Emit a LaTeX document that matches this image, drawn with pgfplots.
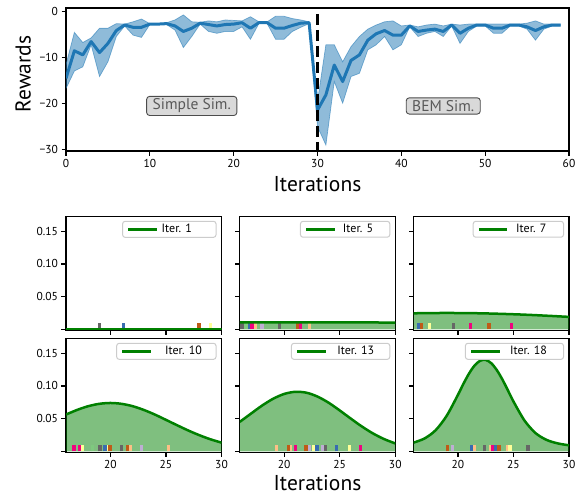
\documentclass[border=0pt]{standalone}
\usepackage{fontspec}
\setmainfont{PT Sans}
\usepackage{pgfplots}
\usepackage{pgfplotstable}
\pgfplotsset{compat=1.18}
\usepgfplotslibrary{fillbetween}

\definecolor{tabblue}{HTML}{1F77B4}
\definecolor{mplgreen}{HTML}{008000}
% Accent palette for the rug marks
\definecolor{accgreen}{HTML}{7FC97F}
\definecolor{acclav}{HTML}{BEAED4}
\definecolor{accorange}{HTML}{FDC086}
\definecolor{accyellow}{HTML}{FFFF99}
\definecolor{accblue}{HTML}{386CB0}
\definecolor{accpink}{HTML}{F0027F}
\definecolor{accbrown}{HTML}{BF5B17}
\definecolor{accgray}{HTML}{666666}

% reward curve: iteration, mean, lower, upper
\pgfplotstableread{
x m lo hi
0 -14.5 -16.7 -11.5
1 -8.5 -12.9 -4.5
2 -9.4 -12.0 -6.7
3 -6.5 -7.2 -5.7
4 -8.9 -14.1 -3.6
5 -6.9 -10.9 -3.6
6 -4.1 -5.4 -2.6
7 -2.9 -3.1 -2.7
8 -3.4 -5.1 -2.2
9 -3.4 -5.6 -1.6
10 -2.7 -2.8 -2.6
11 -2.7 -2.8 -2.6
12 -2.6 -2.8 -2.4
13 -3.1 -4.0 -1.8
14 -4.3 -7.8 -0.7
15 -3.6 -5.4 -2.2
16 -2.5 -2.7 -2.3
17 -2.8 -4.3 -2.0
18 -3.1 -4.7 -2.2
19 -2.8 -4.3 -1.8
20 -2.7 -4.3 -1.9
21 -2.4 -3.3 -2.0
22 -3.6 -6.0 -1.1
23 -2.4 -2.6 -2.2
24 -2.4 -2.6 -2.2
25 -3.6 -6.0 -1.0
26 -3.6 -6.0 -1.0
27 -3.0 -4.3 -1.5
28 -2.5 -3.4 -1.8
29 -2.4 -2.6 -2.2
30 -21.4 -25.0 -19.5
31 -18.1 -29.0 -7.2
32 -11.6 -15.2 -7.2
33 -15.2 -19.9 -10.9
34 -10.6 -14.1 -7.6
35 -9.4 -13.4 -5.4
36 -6.2 -8.3 -3.8
37 -4.8 -7.2 -2.9
38 -4.1 -5.4 -2.2
39 -5.1 -8.3 -2.0
40 -5.1 -7.2 -3.1
41 -3.1 -3.3 -2.9
42 -4.3 -5.4 -3.3
43 -4.0 -4.7 -2.9
44 -3.8 -4.3 -2.7
45 -4.3 -5.4 -3.1
46 -2.9 -3.1 -2.7
47 -4.7 -6.9 -2.9
48 -3.6 -4.3 -2.7
49 -2.9 -3.1 -2.7
50 -2.9 -3.1 -2.7
51 -3.6 -4.7 -2.7
52 -3.6 -4.7 -2.7
53 -2.9 -3.1 -2.7
54 -2.9 -3.1 -2.7
55 -3.3 -3.8 -2.5
56 -4.1 -6.2 -2.0
57 -3.3 -3.8 -2.7
58 -2.9 -3.1 -2.7
59 -2.9 -3.1 -2.7
}\rewards

\pgfplotstableread{
x y
16 0.0008
23 0.0008
30 0.0008
}\iterA
\pgfplotstableread{
x y
16 0.0106
20 0.0106
25 0.0105
30 0.0104
}\iterB
\pgfplotstableread{
x y
16 0.0245
18 0.0249
19 0.0250
20 0.0249
22 0.0245
24 0.0236
26 0.0224
28 0.0208
30 0.0190
}\iterC
\pgfplotstableread{
x y
16 0.0562
17 0.0633
18 0.0690
19 0.0726
20 0.0739
21 0.0726
22 0.0690
23 0.0633
24 0.0562
25 0.0481
26 0.0399
27 0.0319
28 0.0247
29 0.0184
30 0.0133
}\iterD
\pgfplotstableread{
x y
16 0.0450
17 0.0575
18 0.0698
19 0.0803
20 0.0877
21 0.0910
22 0.0896
23 0.0837
24 0.0743
25 0.0625
26 0.0500
27 0.0379
28 0.0273
29 0.0187
30 0.0121
}\iterE
\pgfplotstableread{
x y
16 0.0133
17 0.0197
18 0.0324
19 0.0547
20 0.0863
20.5 0.1034
21 0.1189
21.5 0.1312
22 0.1385
22.5 0.1397
23 0.1347
23.5 0.1242
24 0.1099
24.5 0.0932
25 0.0762
26 0.0469
27 0.0277
28 0.0173
29 0.0121
30 0.0092
}\iterF

\tikzset{
  simbox/.style={fill=black!15, draw=black!70, line width=0.9pt, rounded corners=3pt,
    text=black!65, font=\fontsize{15.5}{17}\selectfont, inner xsep=6pt, inner ysep=2.5pt},
  biglabel/.style={font=\fontsize{21.5}{24}\selectfont, inner sep=0pt, anchor=base},
}
% legend text with measured padding: gap before, space after
\newcommand{\leg}[3]{\rule{#1}{0pt}#3\rule{#2}{0pt}}

\pgfplotsset{
  common/.style={
    scale only axis,
    axis line style={line width=1.3pt},
    tick align=outside, tick pos=left,
    major tick length=4.5pt,
    every tick/.append style={black, line width=1.3pt},
    ticklabel style={font=\fontsize{11.5}{13}\selectfont},
    /pgf/number format/assume math mode=true,
  },
  panel/.style={
    common, anchor=north west,
    width=155.5pt, height=113.5pt,
    xmin=16, xmax=30, ymin=-0.0015, ymax=0.172,
    xtick={20,25,30}, ytick={0,0.05,0.1,0.15},
    yticklabels={,0.05,0.10,0.15},
    legend style={at={(1,1)}, anchor=north east, xshift=-5pt, yshift=-4pt,
      draw=black!20, line width=1pt, rounded corners=2.5pt,
      font=\fontsize{12}{13}\selectfont, inner xsep=4.5pt, inner ysep=1pt,
      nodes={inner xsep=0pt, inner ysep=2pt}},
    legend cell align=left,
    legend image code/.code={\draw[#1, line width=2.5pt] (0pt,0pt) -- (28.5pt,0pt);},
  },
  rug/.style={ycomb, line width=3.3pt, forget plot, no markers},
  kdefill/.style={fill=mplgreen, fill opacity=0.5, draw=none, smooth, forget plot},
  kde/.style={mplgreen, line width=2.5pt, smooth},
}

\begin{document}
\begin{tikzpicture}

% ---- reward curve ----
\begin{axis}[common, at={(66pt,-8pt)}, anchor=north west,
  width=503pt, height=143pt,
  xmin=0, xmax=60, ymin=-30.3, ymax=0.8,
  xtick={0,10,...,60}, ytick={-30,-20,-10,0},
  yticklabels={−30,−20,−10,0}]
\addplot[name path=hi, draw=tabblue, draw opacity=0.55, line width=0.7pt] table[x=x,y=hi] \rewards;
\addplot[name path=lo, draw=tabblue, draw opacity=0.55, line width=0.7pt] table[x=x,y=lo] \rewards;
\addplot[fill=tabblue, fill opacity=0.5] fill between[of=hi and lo];
\addplot[tabblue, line width=3pt, line join=round] table[x=x,y=m] \rewards;
\addplot[black, line width=3pt, dash pattern=on 11pt off 5pt] coordinates {(30,-0.5) (30,-30.3)};
\node[simbox] at (axis cs:15,-20.5) {Simple Sim.};
\node[simbox] at (axis cs:45,-20.5) {BEM Sim.};
\end{axis}
\node[biglabel] at (317.5pt,-191.7pt) {Iterations};
\node[biglabel, rotate=90] at (30.5pt,-74pt) {Rewards};

% ---- row 1 ----
\begin{axis}[panel, at={(66pt,-216.8pt)}, xticklabels={}]
\addplot[kdefill] table {\iterA} \closedcycle;
\addplot[rug, accgray] coordinates {(19.0,0.0095)};
\addplot[rug, accblue] coordinates {(21.15,0.0095)};
\addplot[rug, accbrown] coordinates {(27.98,0.0095)};
\addplot[rug, accyellow] coordinates {(29.03,0.0095)};
\addplot[kde] table {\iterA};
\addlegendentry{\leg{3.6pt}{19.5pt}{Iter. 1}}
\end{axis}

\begin{axis}[panel, at={(239.75pt,-216.8pt)}, xticklabels={}, yticklabels={}]
\addplot[kdefill] table {\iterB} \closedcycle;
\addplot[rug, accgray] coordinates {(16.2,0.0095) (19.55,0.0095)};
\addplot[rug, accgreen] coordinates {(16.57,0.0095)};
\addplot[rug, accblue] coordinates {(16.87,0.0095)};
\addplot[rug, accpink] coordinates {(17.1,0.0095) (21.45,0.0095)};
\addplot[rug, accorange] coordinates {(17.4,0.0095) (22.25,0.0095)};
\addplot[rug, acclav] coordinates {(18.0,0.0095)};
\addplot[rug, accbrown] coordinates {(21.2,0.0095)};
\addplot[kde] table {\iterB};
\addlegendentry{\leg{7pt}{12pt}{Iter. 5}}
\end{axis}

\begin{axis}[panel, at={(413.5pt,-216.8pt)}, xticklabels={}, yticklabels={}]
\addplot[kdefill] table {\iterC} \closedcycle;
\addplot[rug, accblue] coordinates {(16.45,0.0095)};
\addplot[rug, accbrown] coordinates {(16.75,0.0095) (22.8,0.0095)};
\addplot[rug, accyellow] coordinates {(17.44,0.0095)};
\addplot[rug, accgray] coordinates {(19.6,0.0095)};
\addplot[rug, accpink] coordinates {(21.1,0.0095) (24.84,0.0095)};
\addplot[kde] table {\iterC};
\addlegendentry{\leg{7.5pt}{12.5pt}{Iter. 7}}
\end{axis}

% ---- row 2 ----
\begin{axis}[panel, at={(66pt,-338.8pt)}]
\addplot[kdefill] table {\iterD} \closedcycle;
\addplot[rug, accpink] coordinates {(16.72,0.0095) (17.26,0.0095)};
\addplot[rug, accyellow] coordinates {(17.47,0.0095) (19.8,0.0095)};
\addplot[rug, accgreen] coordinates {(18.4,0.0095)};
\addplot[rug, accgray] coordinates {(19.05,0.0095) (21.0,0.0095)};
\addplot[rug, accblue] coordinates {(19.5,0.0095)};
\addplot[rug, accbrown] coordinates {(19.95,0.0095) (21.54,0.0095)};
\addplot[rug, accorange] coordinates {(21.8,0.0095) (25.2,0.0095)};
\addplot[rug, acclav] coordinates {(22.8,0.0095)};
\addplot[kde] table {\iterD};
\addlegendentry{\leg{13pt}{9.5pt}{Iter. 10}}
\end{axis}

\begin{axis}[panel, at={(239.75pt,-338.8pt)}, yticklabels={}]
\addplot[kdefill] table {\iterE} \closedcycle;
\addplot[rug, accorange] coordinates {(19.32,0.0095) (20.6,0.0095)};
\addplot[rug, accbrown] coordinates {(20.4,0.0095) (21.96,0.0095)};
\addplot[rug, accpink] coordinates {(21.03,0.0095) (26.9,0.0095)};
\addplot[rug, acclav] coordinates {(22.26,0.0095) (23.46,0.0095)};
\addplot[rug, accyellow] coordinates {(22.65,0.0095) (25.85,0.0095)};
\addplot[rug, accblue] coordinates {(22.95,0.0095) (24.74,0.0095)};
\addplot[rug, accgray] coordinates {(23.7,0.0095)};
\addplot[kde] table {\iterE};
\addlegendentry{\leg{10.5pt}{11pt}{Iter. 13}}
\end{axis}

\begin{axis}[panel, at={(413.5pt,-338.8pt)}, yticklabels={}]
\addplot[kdefill] table {\iterF} \closedcycle;
\addplot[rug, accbrown] coordinates {(19.05,0.0095) (23.7,0.0095)};
\addplot[rug, acclav] coordinates {(19.5,0.0095)};
\addplot[rug, accblue] coordinates {(21.24,0.0095) (23.34,0.0095)};
\addplot[rug, accorange] coordinates {(21.48,0.0095) (22.98,0.0095) (24.45,0.0095)};
\addplot[rug, accgray] coordinates {(22.38,0.0095) (26.3,0.0095)};
\addplot[rug, accpink] coordinates {(23.13,0.0095)};
\addplot[rug, accyellow] coordinates {(24.7,0.0095)};
\addplot[kde] table {\iterF};
\addlegendentry{\leg{9.3pt}{12pt}{Iter. 18}}
\end{axis}

\node[biglabel] at (317.5pt,-490pt) {Iterations};
\path (0pt,0pt) rectangle (585pt,-495pt);
\end{tikzpicture}
\end{document}
